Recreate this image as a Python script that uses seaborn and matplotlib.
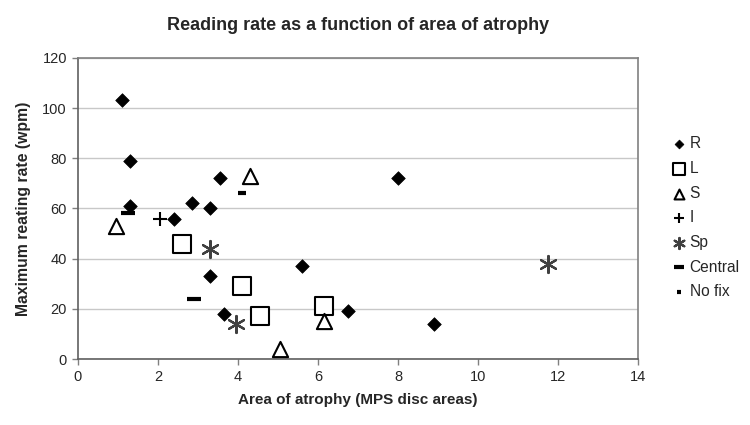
import numpy as np
import pandas as pd
import seaborn as sns
import matplotlib.pyplot as plt

sns.set_style("white")
plt.rcParams['font.family'] = ['Liberation Sans', 'DejaVu Sans']

# data (area of atrophy, reading rate)
r_x = [1.1, 1.3, 1.3, 2.4, 2.85, 3.3, 3.55, 3.3, 3.65, 5.6, 6.75, 8.0, 8.9]
r_y = [103, 79, 61, 56, 62, 60, 72, 33, 18, 37, 19, 72, 14]
l_x = [2.6, 4.1, 4.55, 6.15]
l_y = [46, 29, 17, 21]
s_x = [0.95, 4.3, 5.05, 6.15]
s_y = [53, 73, 4, 15]
i_x = [2.05]
i_y = [56]
sp_x = [3.3, 3.95, 11.75]
sp_y = [44, 14, 38]
central_x = [1.25, 2.9]
central_y = [58, 24]
nofix_x = [4.1]
nofix_y = [66]

fig, ax = plt.subplots(figsize=(7.5, 4.25), dpi=100)
fig.subplots_adjust(left=0.104, right=0.851, top=0.864, bottom=0.155)

sns.scatterplot(x=r_x, y=r_y, ax=ax, marker='D', s=48, color='black',
                edgecolor='black', linewidth=0.5, label='R', zorder=3)
sns.scatterplot(x=l_x, y=l_y, ax=ax, marker='s', s=150, facecolor='white',
                edgecolor='black', linewidth=1.5, label='L', zorder=3)
sns.scatterplot(x=s_x, y=s_y, ax=ax, marker='^', s=120, facecolor='white',
                edgecolor='black', linewidth=1.5, label='S', zorder=3)
sns.scatterplot(x=i_x, y=i_y, ax=ax, marker='+', s=110, color='black',
                linewidth=1.5, label='I', zorder=3)
sns.scatterplot(x=sp_x, y=sp_y, ax=ax, marker=(6, 2, 0), s=150, color='#404040',
                linewidth=1.6, label='Sp', zorder=3)
sns.scatterplot(x=central_x, y=central_y, ax=ax, marker='_', s=100, color='black',
                linewidth=3, label='Central', zorder=3)
sns.scatterplot(x=nofix_x, y=nofix_y, ax=ax, marker='_', s=28, color='black',
                linewidth=3, label='No fix', zorder=3)

ax.set_xlim(0, 14)
ax.set_ylim(0, 120)
ax.set_xticks(np.arange(0, 15, 2))
ax.set_yticks(np.arange(0, 121, 20))
ax.yaxis.grid(True, color='#c8c8c8', linewidth=1)
ax.set_axisbelow(True)
for side in ['top', 'right', 'left', 'bottom']:
    ax.spines[side].set_visible(True)
    ax.spines[side].set_color('#808080')
    ax.spines[side].set_linewidth(1.2)
ax.spines['left'].set_color('#606060')
ax.spines['bottom'].set_color('#606060')
ax.tick_params(axis='both', direction='out', length=4, width=1, color='#808080',
               labelsize=10.5, pad=4, bottom=True, left=True)

ax.set_xlabel('Area of atrophy (MPS disc areas)', fontsize=11, fontweight='bold', labelpad=6)
ax.set_ylabel('Maximum reating rate (wpm)', fontsize=11.3, fontweight='bold', labelpad=8)
ax.set_title('Reading rate as a function of area of atrophy', fontsize=13,
             fontweight='bold', pad=20)

ax.legend(loc='upper left', bbox_to_anchor=(1.05, 0.76), frameon=False,
          fontsize=11.2, markerscale=0.65, handlelength=0.8, handletextpad=0.3,
          labelspacing=0.62, borderaxespad=0)

fig.savefig('out.png', dpi=100)
